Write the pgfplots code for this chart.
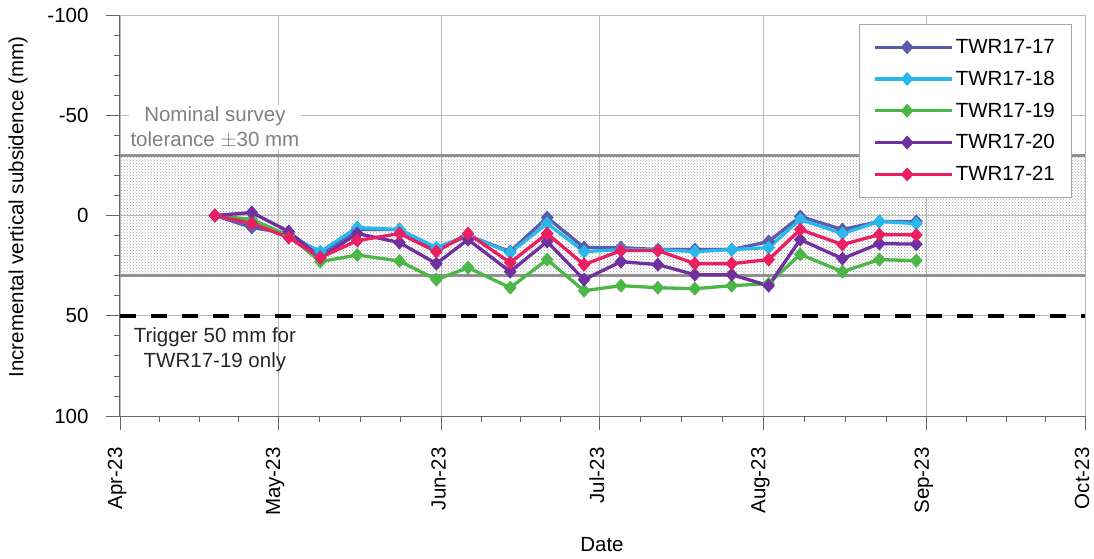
\documentclass[border=0pt]{standalone}
\usepackage{fontspec}
\setmainfont{Liberation Sans}
\usepackage{pgfplots}
\pgfplotsset{compat=1.18}
\usetikzlibrary{patterns}

\definecolor{cA}{RGB}{88,92,170}
\definecolor{cB}{RGB}{41,184,236}
\definecolor{cC}{RGB}{76,183,72}
\definecolor{cD}{RGB}{112,48,160}
\definecolor{cE}{RGB}{233,30,99}
\definecolor{bandline}{RGB}{145,145,145}
\definecolor{gridc}{RGB}{185,185,185}

\begin{document}
\begin{tikzpicture}[font=\fontsize{20.5}{24.6}\selectfont]
\path[use as bounding box] (-120pt,-142pt) rectangle (974pt,416pt);
\begin{axis}[
    scale only axis,
    width=965pt, height=401pt,
    xmin=0, xmax=183,
    ymin=-100, ymax=100,
    y dir=reverse,
    clip=false,
    axis line style={draw=none},
    xtick={0,30,61,91,122,153,183},
    xticklabels={Apr-23,May-23,Jun-23,Jul-23,Aug-23,Sep-23,Oct-23},
    minor xtick={7.5,15,22.5,37.75,45.5,53.25,68.5,76,83.5,98.75,106.5,114.25,129.75,137.5,145.25,160.5,168,175.5},
    ytick={-100,-50,0,50,100},
    yticklabels={-100,-50,0,50,100},
    minor ytick={-90,-80,-70,-60,-40,-30,-20,-10,10,20,30,40,60,70,80,90},
    xtick pos=bottom, ytick pos=left,
    tick align=outside,
    major tick length=14pt, minor tick length=6pt,
    every tick/.style={black!60, line width=0.8pt},
    x tick label style={yshift=-14pt, xshift=-3pt, rotate=90, anchor=east},
    y tick label style={xshift=-14pt},
    xmajorgrids, ymajorgrids,
    grid style={gridc, line width=0.8pt},
    legend style={at={(axis cs:180.4,-95.5)}, anchor=north east,
        draw=gray!70, line width=0.8pt, fill=white,
        row sep=12pt, inner xsep=14pt, inner ysep=13pt},
    legend cell align=left,
    legend image code/.code={
        \path (0pt,0pt) -- (77pt,0pt);
        \draw[#1, mark=none] (0pt,0pt) -- (64pt,0pt);
        \draw[#1, only marks] plot coordinates {(32pt,0pt)};
    },
    every axis plot/.append style={line width=3.3pt, mark=diamond*, mark size=6.3pt,
        mark options={solid, line width=1pt, xscale=1.2}},
]
% tolerance band
\addplot[draw=none, pattern=crosshatch dots, pattern color=black!35, mark=none, forget plot]
    coordinates {(0,-30) (183,-30) (183,30) (0,30)};
\addplot[bandline, line width=3pt, mark=none, forget plot] coordinates {(0,-30) (183,-30)};
\addplot[bandline, line width=3pt, mark=none, forget plot] coordinates {(0,30) (183,30)};
% trigger line
\addplot[black, line width=4pt, mark=none, dash pattern=on 16pt off 15pt, forget plot]
    coordinates {(0,50) (183,50)};

\addplot[cA] coordinates {
(18,0) (25,6) (32,9) (38,19) (45,7) (53,7) (60,17) (66,10) (74,18) (81,1)
(88,16) (95,16) (102,17) (109,17) (116,17) (123,13) (129,0.5) (137,7) (144,3) (151,3)
};
\addlegendentry{TWR17-17}
\addplot[cB] coordinates {
(18,0) (25,4) (32,10) (38,18) (45,6) (53,7) (60,16) (66,10) (74,18.5) (81,4)
(88,18) (95,17) (102,17) (109,18) (116,17) (123,16) (129,2) (137,9) (144,3) (151,4)
};
\addlegendentry{TWR17-18}
\addplot[cC] coordinates {
(18,0) (25,2) (32,10) (38,23) (45,19.7) (53,22.7) (60,32) (66,26) (74,36) (81,22)
(88,37.5) (95,35) (102,36) (109,36.5) (116,35) (123,34) (129,19.4) (137,28) (144,22) (151,22.5)
};
\addlegendentry{TWR17-19}
\addplot[cD] coordinates {
(18,0) (25,-1.5) (32,8) (38,21) (45,9) (53,13.5) (60,24) (66,12) (74,28) (81,13)
(88,32) (95,23) (102,24.5) (109,29.5) (116,29.5) (123,35) (129,12) (137,21.5) (144,14) (151,14.3)
};
\addlegendentry{TWR17-20}
\addplot[cE] coordinates {
(18,0) (25,4) (32,11) (38,21) (45,12.5) (53,9) (60,18) (66,9) (74,23.5) (81,9)
(88,24.5) (95,17.5) (102,17.5) (109,24) (116,24) (123,22) (129,7) (137,14.5) (144,9.5) (151,9.7)
};
\addlegendentry{TWR17-21}

% axis lines (left and bottom)
\draw[black!60, line width=1pt] (axis cs:0,-100) -- (axis cs:0,100) -- (axis cs:183,100);

\node[fill=white, text=gray, align=center, inner sep=2pt] at (axis cs:18,-43.9)
    {Nominal survey\\tolerance \(\pm\)30 mm};
\node[text=black!85, align=center, inner sep=2pt] at (axis cs:18,67)
    {Trigger 50 mm for\\TWR17-19 only};

\node[rotate=90] at ([xshift=-102pt]axis cs:0,-4.2) {Incremental vertical subsidence (mm)};
\node at ([yshift=-129pt]axis cs:91.4,100) {Date};
\end{axis}
\end{tikzpicture}
\end{document}
